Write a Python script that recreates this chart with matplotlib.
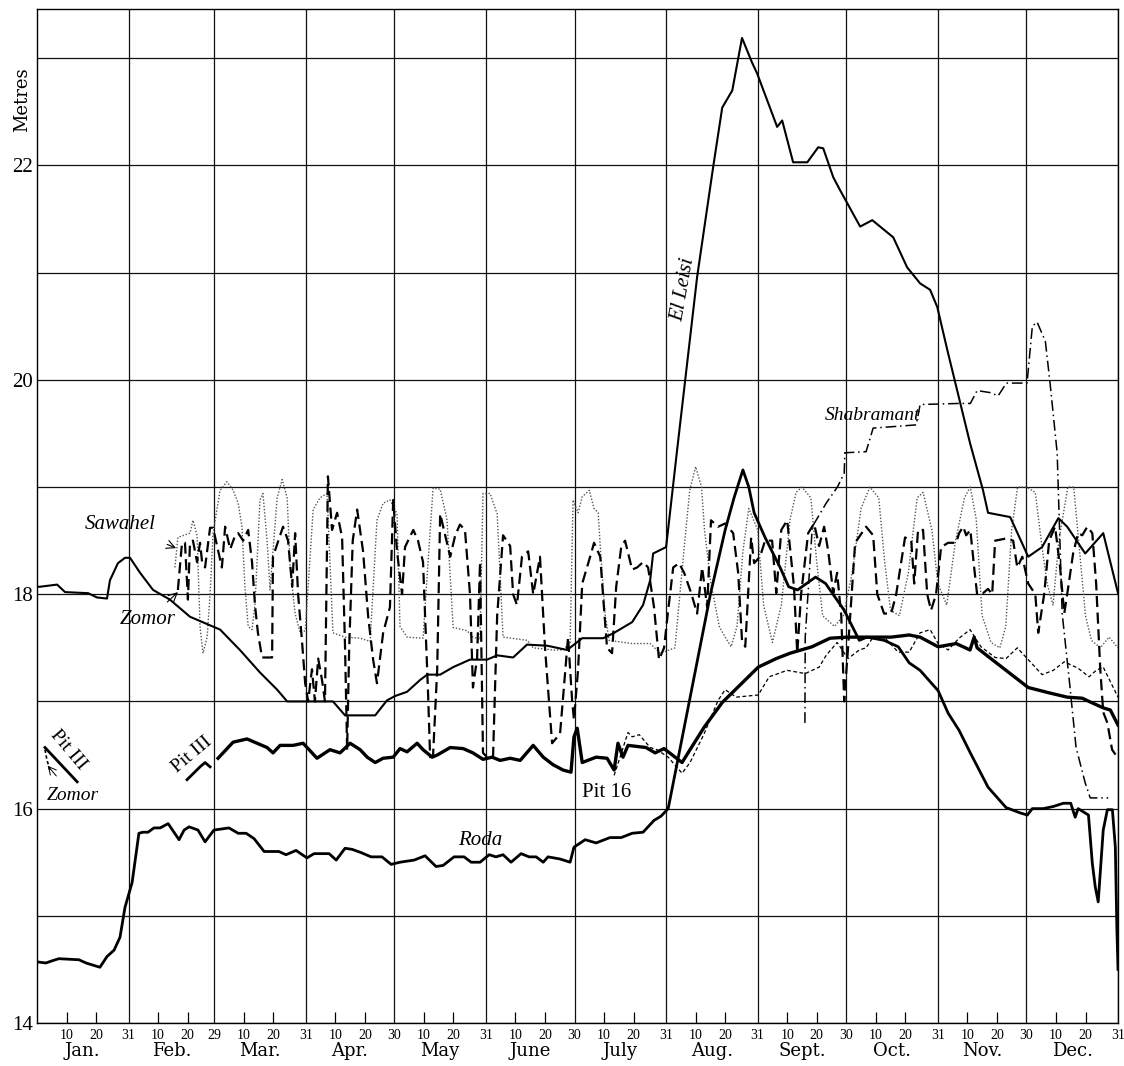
import matplotlib
matplotlib.use("Agg")
from matplotlib import pyplot as plt

plt.rcParams['font.family'] = 'serif'
plt.rcParams['font.serif'] = ['Liberation Serif', 'DejaVu Serif']

# day of year (leap year, 0 = start of Jan 1) and gauge level in metres

el_leisi_day = [0, 1, 6.8, 9.5, 17.3, 20.3, 23.7, 24.7, 27.4, 29.8, 31.5, 34.9, 39.3, 45.0, 51.8,
                58.6, 62.0, 68.7, 75.5, 81.3, 84.7, 89.1, 93.5, 100.2, 104.3, 114.5, 118.5, 121.2,
                125.3, 129.7, 132.1, 136.5, 140.9, 146.6, 152.4, 155.8, 161.2, 165.9, 172.7, 179.5,
                184.6, 191.7, 195.4, 201.5, 205.2, 207.6, 208.6, 213.0, 216.7, 218.8, 223.5, 228.9,
                232.0, 235.4, 238.7, 242.1, 243.8, 250.6, 252.3, 256.0, 260.8, 264.5, 266.2, 269.6,
                271.9, 278.7, 282.8, 289.9, 294.6, 299.0, 302.4, 304.8, 308.2, 315.9, 320.3, 322.0,
                329.5, 335.6, 340.3, 345.8, 348.8, 354.9, 361.0, 366]
el_leisi_m = [18.07, 18.07, 18.09, 18.02, 18.01, 17.97, 17.96, 18.13, 18.29, 18.34, 18.34, 18.2,
              18.04, 17.95, 17.79, 17.71, 17.67, 17.48, 17.27, 17.11, 17.0, 17.0, 17.0, 17.0, 16.87,
              16.87, 17.01, 17.05, 17.09, 17.2, 17.25, 17.25, 17.32, 17.39, 17.39, 17.43, 17.41,
              17.53, 17.52, 17.48, 17.59, 17.59, 17.64, 17.74, 17.9, 18.13, 18.38, 18.44, 19.34,
              19.84, 20.96, 21.98, 22.54, 22.70, 23.19, 22.96, 22.86, 22.36, 22.42, 22.03, 22.03,
              22.17, 22.16, 21.89, 21.77, 21.43, 21.49, 21.33, 21.05, 20.90, 20.84, 20.68, 20.28,
              19.41, 18.97, 18.76, 18.72, 18.35, 18.44, 18.71, 18.63, 18.38, 18.57, 18.01]

roda_day = [0, 3.0, 5.1, 7.4, 14.2, 16.6, 21.3, 23.7, 26.1, 28.1, 29.8, 32.2, 34.5, 35.9, 37.6,
            39.6, 41.7, 44.4, 48.1, 49.8, 51.5, 54.5, 56.9, 59.9, 65.0, 68.1, 70.8, 73.5, 76.9,
            81.9, 84.3, 87.7, 91.4, 93.8, 98.9, 101.3, 104.3, 106.7, 109.7, 113.1, 116.8, 119.9,
            122.9, 127.7, 131.4, 135.1, 137.5, 141.2, 144.6, 147.0, 150.0, 153.1, 155.4, 157.8,
            160.5, 163.9, 166.6, 169.0, 171.4, 173.0, 177.1, 180.5, 181.8, 185.6, 189.3, 194.0,
            197.8, 201.5, 205.2, 208.9, 211.3, 213.7, 218, 223, 228, 233, 236, 239, 241, 242.8,
            246.5, 251.6, 254.5, 257.5, 263.6, 267.0, 273.3, 278.4, 281, 286.8, 291.6, 295.3,
            299.0, 305.1, 308.5, 312.2, 316.0, 322.0, 328.1, 332.9, 335.3, 337, 340.7, 344.1,
            347.5, 350, 351.5, 352.5, 356.0, 357.3, 358.3, 359.3, 361.0, 362.4, 364.1, 365.1,
            365.6, 366]
roda_m = [14.57, 14.56, 14.58, 14.6, 14.59, 14.56, 14.52, 14.62, 14.68, 14.8, 15.08, 15.31, 15.77,
          15.78, 15.78, 15.82, 15.82, 15.86, 15.71, 15.8, 15.83, 15.8, 15.69, 15.8, 15.82, 15.77,
          15.77, 15.72, 15.6, 15.6, 15.57, 15.61, 15.54, 15.58, 15.58, 15.52, 15.63, 15.62, 15.59,
          15.55, 15.55, 15.48, 15.5, 15.52, 15.56, 15.46, 15.47, 15.55, 15.55, 15.5, 15.5, 15.57,
          15.55, 15.57, 15.5, 15.58, 15.55, 15.55, 15.5, 15.55, 15.53, 15.5, 15.64, 15.71, 15.68,
          15.73, 15.73, 15.77, 15.78, 15.89, 15.93, 16.0, 16.6, 17.3, 18.0, 18.6, 18.9, 19.16,
          19.0, 18.76, 18.53, 18.25, 18.07, 18.04, 18.16, 18.1, 17.85, 17.57, 17.6, 17.57, 17.51,
          17.36, 17.29, 17.1, 16.89, 16.73, 16.52, 16.2, 16.01, 15.96, 15.94, 16.0, 16.0, 16.02,
          16.05, 16.05, 15.92, 16.0, 15.94, 15.49, 15.27, 15.13, 15.8, 15.99, 15.99, 15.64, 14.9,
          14.5]

pit3_jan_day = [2.7, 13.6]
pit3_jan_m = [16.57, 16.25]

pit3_feb_day = [50.8, 55.2, 56.9, 58.6]
pit3_feb_m = [16.27, 16.39, 16.43, 16.39]

pit3_day = [61.3, 66.4, 71.1, 74.5, 77.9, 79.9, 82.3, 86.7, 90.1, 94.8, 99.2, 102.6, 106.0, 109.4,
            111.8, 114.5, 117.2, 120.6, 122.9, 125.3, 128.7, 130.7, 133.8, 135.5, 139.9, 144.3,
            147.6, 151.0, 154.1, 156.8, 160.2, 163.6, 168.0, 171.4, 174.7, 178.1, 180.8, 181.8,
            182.9, 184.6, 189.3, 193.0, 195.4, 196.7, 198.4, 200.1, 206.2, 209.3, 212.3, 218.4,
            221.1, 225.9, 232.0, 235.7, 244.2, 250.3, 255.0, 262.4, 268.5, 274.6, 283.1, 289.2,
            295.3, 299.0, 305.1, 311.2, 315.9, 317.3, 318.3, 323.4, 329.5, 335.6, 342.7, 348.8,
            353.9, 356.2, 361.0, 363.4, 366]
pit3_m = [16.47, 16.62, 16.65, 16.61, 16.57, 16.52, 16.59, 16.59, 16.61, 16.47, 16.55, 16.52,
          16.61, 16.55, 16.48, 16.43, 16.47, 16.48, 16.56, 16.53, 16.61, 16.55, 16.48, 16.5, 16.57,
          16.56, 16.52, 16.46, 16.48, 16.45, 16.47, 16.45, 16.59, 16.48, 16.41, 16.36, 16.34,
          16.67, 16.75, 16.43, 16.48, 16.47, 16.36, 16.61, 16.48, 16.59, 16.57, 16.52, 16.56,
          16.43, 16.55, 16.76, 16.99, 17.09, 17.32, 17.40, 17.45, 17.51, 17.59, 17.6, 17.6, 17.6,
          17.62, 17.6, 17.51, 17.54, 17.48, 17.6, 17.5, 17.39, 17.26, 17.13, 17.08, 17.04, 17.03,
          17.0, 16.94, 16.92, 16.78]

pit16_day = [195.4, 200.1, 201.5, 203.9, 207.6, 209.9, 213.7, 218.4, 221.1, 225.9, 230.6, 233.0,
             236.7, 240.4, 244.2, 247.9, 254.0, 260.1, 264.8, 267.2, 270.9, 274.6, 278.4, 280.7,
             283.1, 286.8, 291.6, 295.3, 299.0, 302.4, 305.1, 308.5, 312.2, 315.9, 319.6, 324.4,
             328.1, 331.9, 335.6, 340.3, 344.1, 347.8, 352.5, 356.2, 358.6, 361.0, 366]
pit16_m = [16.31, 16.71, 16.67, 16.69, 16.57, 16.55, 16.48, 16.33, 16.43, 16.7, 17.01, 17.11,
           17.04, 17.05, 17.06, 17.23, 17.29, 17.26, 17.32, 17.43, 17.55, 17.4, 17.48, 17.5, 17.6,
           17.6, 17.46, 17.46, 17.64, 17.67, 17.54, 17.48, 17.59, 17.67, 17.51, 17.41, 17.4, 17.5,
           17.39, 17.25, 17.29, 17.37, 17.31, 17.23, 17.29, 17.32, 17.04]

sawahel_day = [46.7, 47.7, 51.8, 52.8, 54.2, 55.2, 56.2, 57.6, 58.6, 59.6, 62.0, 64.3, 66.4, 68.1,
               69.4, 70.4, 71.5, 72.8, 73.8, 75.5, 76.5, 77.9, 78.9, 79.9, 81.3, 83.0, 84.7, 85.7,
               87.4, 89.1, 90.8, 91.8, 93.5, 95.8, 98.2, 99.2, 100.2, 104.3, 109.4, 112.8, 115.1,
               117.2, 119.5, 121.9, 122.9, 125.3, 130.7, 132.4, 134.1, 136.5, 138.8, 140.9, 145.6,
               147.6, 150.0, 151.0, 153.4, 155.8, 157.8, 166.0, 168.0, 174.7, 178.1, 180.5, 181.5,
               183.2, 184.6, 187.0, 188.6, 190.0, 190.7, 192.3, 193.7, 201.5, 207.6, 211.0, 216,
               219, 221, 223, 225, 226, 228, 231, 233, 235, 237, 239, 241, 244, 246, 249, 252, 255,
               257, 259, 262, 264, 266, 270, 273, 276, 279, 282, 285, 287, 289, 292, 295, 298, 300,
               303, 305, 308, 311, 314, 316, 318, 320, 323, 326, 328, 330, 332, 335, 338, 340, 342,
               344, 346, 349, 351, 353, 355, 357, 360, 363, 366]
sawahel_m = [18.25, 18.53, 18.57, 18.69, 18.55, 17.7, 17.45, 17.6, 18.0, 18.57, 18.97, 19.05,
             18.97, 18.85, 18.63, 18.07, 17.7, 17.67, 17.9, 18.88, 18.94, 18.5, 18.04, 18.4, 18.9,
             19.07, 18.9, 18.25, 17.82, 17.64, 17.66, 18.07, 18.79, 18.9, 18.94, 18.3, 17.64, 17.6,
             17.59, 17.56, 18.69, 18.85, 18.88, 18.75, 17.7, 17.6, 17.59, 18.3, 18.99, 18.98, 18.7,
             17.69, 17.66, 17.6, 17.58, 18.94, 18.94, 18.75, 17.6, 17.57, 17.5, 17.48, 17.48,
             17.55, 18.88, 18.76, 18.91, 18.97, 18.8, 18.76, 18.45, 17.82, 17.57, 17.54, 17.54,
             17.45, 17.5, 18.4, 18.97, 19.19, 19.0, 18.6, 18.13, 17.7, 17.6, 17.51, 17.7, 18.4,
             18.8, 18.6, 17.9, 17.55, 17.9, 18.7, 18.95, 19.0, 18.9, 18.3, 17.8, 17.7, 17.8, 18.2,
             18.8, 19.0, 18.9, 18.3, 17.85, 17.8, 18.2, 18.9, 18.95, 18.6, 18.1, 17.9, 18.5, 18.9,
             19.0, 18.7, 17.8, 17.55, 17.5, 17.7, 18.6, 19.0, 19.0, 18.95, 18.5, 18.1, 17.9, 18.5,
             19.0, 19.0, 18.4, 17.8, 17.57, 17.5, 17.6, 17.5]

zomor_day = [47.7, 49.1, 50.1, 51.1, 51.8, 52.8, 54.2, 55.2, 55.9, 56.9, 58.6, 59.6, 62.6, 63.7,
             65.4, 67.1, 68.1, 69.8, 71.5, 72.8, 73.8, 74.8, 76.2, 79.6, 79.9, 83.3, 85.0, 86.4,
             87.4, 88.4, 89.7, 90.8, 91.8, 93.1, 94.1, 95.2, 96.5, 97.5, 98.5, 99.9, 101.6, 103.3,
             104.3, 105.0, 105.7, 106.9, 108.4, 110.4, 112.1, 113.8, 115.1, 117.2, 119.5, 120.6,
             121.9, 123.6, 124.6, 127.4, 129.0, 130.7, 132.4, 133.1, 134.1, 135.5, 136.5, 138.2,
             139.9, 141.6, 143.2, 144.9, 146.6, 147.6, 149.0, 150.0, 151.0, 152.4, 154.4, 155.8,
             157.8, 160.2, 161.2, 162.5, 164.2, 166.3, 168.0, 170.3, 172.0, 174.4, 177.1, 179.8,
             181.2, 181.8, 183.2, 184.6, 187.6, 188.6, 190.7, 191.7, 193.0, 194.7, 196.1, 197.8,
             199.1, 201.5, 203.2, 205.2, 206.9, 208.9, 210.6, 212.3, 213.7, 215.4, 217.4, 219.1,
             221.5, 223.5, 225.2, 226.9, 228.2, 230.6, 233.0, 235.7, 237.4, 238.7, 239.8, 241.8,
             242.8, 244.8, 246.5, 248.9, 250.3, 252.0, 254.0, 256.3, 257.4, 258.7, 261.1, 263.1,
             264.8, 266.5, 267.9, 269.6, 270.9, 272.3, 273.3, 274.6, 277.0, 280.7, 283.1, 284.5,
             286.8, 289.2, 290.9, 293.9, 296.0, 297.0, 298.3, 300.0, 301.4, 302.7, 304.4, 306.1,
             308.5, 311.2, 312.2, 313.6, 314.6, 316.0, 317.3, 318.3, 320.3, 322.0, 323.4, 324.4,
             328.1, 330.5, 331.9, 333.6, 335.6, 338.0, 339.0, 341.0, 342.7, 344.7, 346.4, 347.8,
             348.8, 350.8, 352.5, 353.9, 355.6, 357.3, 358.6, 360.0, 361.0, 362.4, 364.0, 366]
zomor_m = [18.04, 18.48, 18.48, 17.95, 18.48, 18.5, 18.3, 18.48, 18.3, 18.25, 18.62, 18.62, 18.25,
           18.63, 18.42, 18.55, 18.57, 18.5, 18.6, 18.3, 17.9, 17.64, 17.41, 17.41, 18.35, 18.63,
           18.5, 18.07, 18.57, 18.0, 17.57, 17.17, 17.0, 17.3, 17.0, 17.4, 17.2, 17.0, 19.1, 18.6,
           18.76, 18.53, 17.5, 16.55, 17.5, 18.5, 18.79, 18.4, 17.8, 17.39, 17.17, 17.64, 17.88,
           18.88, 18.4, 18.0, 18.44, 18.6, 18.5, 18.3, 17.08, 16.48, 16.5, 17.3, 18.75, 18.55,
           18.35, 18.55, 18.65, 18.6, 18.0, 17.13, 17.4, 18.3, 16.52, 16.48, 16.48, 17.8, 18.55,
           18.45, 18.0, 17.9, 18.35, 18.4, 18.0, 18.35, 17.5, 16.61, 16.7, 17.6, 17.0, 16.83,
           17.3, 18.1, 18.38, 18.48, 18.35, 17.97, 17.5, 17.45, 18.07, 18.44, 18.5, 18.23, 18.25,
           18.3, 18.25, 17.88, 17.39, 17.5, 17.85, 18.25, 18.29, 18.2, 18.01, 17.82, 18.25, 17.88,
           18.69, 18.63, 18.66, 18.57, 18.2, 17.57, 17.51, 18.53, 18.29, 18.35, 18.5, 18.5, 18.01,
           18.6, 18.69, 18.07, 17.45, 18.0, 18.57, 18.66, 18.45, 18.63, 18.4, 18.01, 18.2, 17.8,
           17.0, 17.5, 18.48, 18.63, 18.55, 18.0, 17.82, 17.82, 18.0, 18.53, 18.5, 18.1, 18.6,
           18.6, 18.0, 17.85, 18.0, 18.44, 18.48, 18.48, 18.57, 18.63, 18.55, 18.6, 18.25, 18.0,
           18.01, 18.05, 18.0, 18.5, 18.52, 18.5, 18.25, 18.35, 18.1, 18.0, 17.64, 18.0, 18.5,
           18.63, 18.25, 17.82, 18.0, 18.38, 18.57, 18.55, 18.63, 18.57, 18.1, 17.3, 16.9, 16.8,
           16.55, 16.47]

zomor_jan_day = [2.7, 3.4, 4.4]
zomor_jan_m = [16.55, 16.45, 16.36]

shabramant_day = [260.0, 260.1, 262.5, 267.2, 271.0, 273.3, 273.5, 280.7, 283.1, 297.7, 299.0,
                  312.0, 316.0, 318.3, 323.0, 325.4, 328.2, 335.2, 337.0, 338.6, 341.4, 343.0,
                  345.4, 347.1, 349.5, 351.8, 354.9, 356.6, 362.7]
shabramant_m = [16.8, 17.6, 18.63, 18.85, 19.0, 19.13, 19.32, 19.33, 19.55, 19.58, 19.77, 19.78,
                19.78, 19.9, 19.88, 19.85, 19.97, 19.97, 20.5, 20.54, 20.36, 19.97, 19.32, 17.82,
                17.2, 16.57, 16.24, 16.1, 16.1]

month_starts = [0, 31, 60, 91, 121, 152, 182, 213, 244, 274, 305, 335]
month_ends = [31, 60, 91, 121, 152, 182, 213, 244, 274, 305, 335, 366]
end_labels = ["31", "29", "31", "30", "31", "30", "31", "31", "30", "31", "30", "31"]
month_names = ["Jan.", "Feb.", "Mar.", "Apr.", "May", "June", "July", "Aug.", "Sept.", "Oct.",
               "Nov.", "Dec."]

fig = plt.figure(figsize=(11.24, 10.66), dpi=100)
ax = fig.add_axes([37 / 1124, 1 - 1023 / 1066, (1118 - 37) / 1124, (1023 - 9) / 1066])
ax.set_xlim(0, 366)
ax.set_ylim(14, 23.46)

# grid: month ends and every metre
ax.set_xticks(month_ends, labels=end_labels)
minor_days = []
for s in month_starts:
    minor_days += [s + 10, s + 20]
ax.set_xticks(minor_days, labels=["10", "20"] * 12, minor=True)
ax.set_yticks([14, 16, 18, 20, 22])
ax.set_yticks([15, 17, 19, 21, 23], minor=True)
ax.grid(True, which="major", color="#111111", lw=0.9)
ax.grid(True, which="minor", axis="y", color="#111111", lw=0.9)
ax.tick_params(axis="x", which="major", length=0, pad=4, labelsize=10)
ax.tick_params(axis="x", which="minor", direction="in", length=8, width=0.9, pad=4, labelsize=10)
ax.tick_params(axis="y", which="both", length=0, pad=3, labelsize=15)
for sp in ax.spines.values():
    sp.set_linewidth(1.0)

for s, e, name in zip(month_starts, month_ends, month_names):
    ax.text((s + e) / 2, -0.028, name, transform=ax.get_xaxis_transform(), ha="center",
            va="center", fontsize=13, family="DejaVu Serif")

fig.text(22 / 1124, 1 - 100 / 1066, "Metres", rotation=90, ha="center", va="center",
         fontsize=13, family="DejaVu Serif")

# series
ax.plot(sawahel_day, sawahel_m, color="#555555", lw=1.0, ls=(0, (1, 1.3)))
ax.plot(zomor_day, zomor_m, color="black", lw=1.6, ls=(0, (5, 2.5)))
ax.plot(zomor_jan_day, zomor_jan_m, color="black", lw=1.2, ls=(0, (2, 1.5)))
ax.plot(pit16_day, pit16_m, color="black", lw=0.9, ls=(0, (3, 2)))
ax.plot(shabramant_day, shabramant_m, color="black", lw=1.1, ls=(0, (7, 2.5, 1, 2.5)))
ax.plot(el_leisi_day, el_leisi_m, color="black", lw=1.5)
ax.plot(roda_day, roda_m, color="black", lw=2.0)
ax.plot(pit3_day, pit3_m, color="black", lw=2.4)
ax.plot(pit3_feb_day, pit3_feb_m, color="black", lw=2.0)
ax.plot(pit3_jan_day, pit3_jan_m, color="black", lw=2.0)

# labels
lab = dict(fontsize=15, style="italic", color="black")
ax.annotate("Sawahel", xy=(47.1, 18.43), xytext=(28.1, 18.65), ha="center", va="center",
            arrowprops=dict(arrowstyle="->", lw=0.8, color="black", shrinkA=14, shrinkB=0), **lab)
ax.annotate("Zomor", xy=(47.7, 18.02), xytext=(37.6, 17.76), ha="center", va="center",
            arrowprops=dict(arrowstyle="->", lw=0.8, color="black", shrinkA=6, shrinkB=0), **lab)
ax.annotate("Zomor", xy=(3.6, 16.4), xytext=(12.2, 16.12), ha="center", va="center",
            arrowprops=dict(arrowstyle="->", lw=0.7, color="black", shrinkA=8, shrinkB=0),
            fontsize=14, style="italic")
ax.text(10.5, 16.55, "Pit III", rotation=-50, ha="center", va="center", fontsize=14)
ax.text(52.5, 16.5, "Pit III", rotation=40, ha="center", va="center", fontsize=14)
ax.text(193.0, 16.15, "Pit 16", ha="center", va="center", fontsize=15)
ax.text(150.0, 15.7, "Roda", ha="center", va="center", **lab)
ax.text(218.8, 20.84, "El Leisi", rotation=80, ha="center", va="center", **lab)
ax.text(282.8, 19.67, "Shabramant", ha="center", va="center", fontsize=14, style="italic")

fig.savefig("out.png", dpi=100, facecolor="white")
